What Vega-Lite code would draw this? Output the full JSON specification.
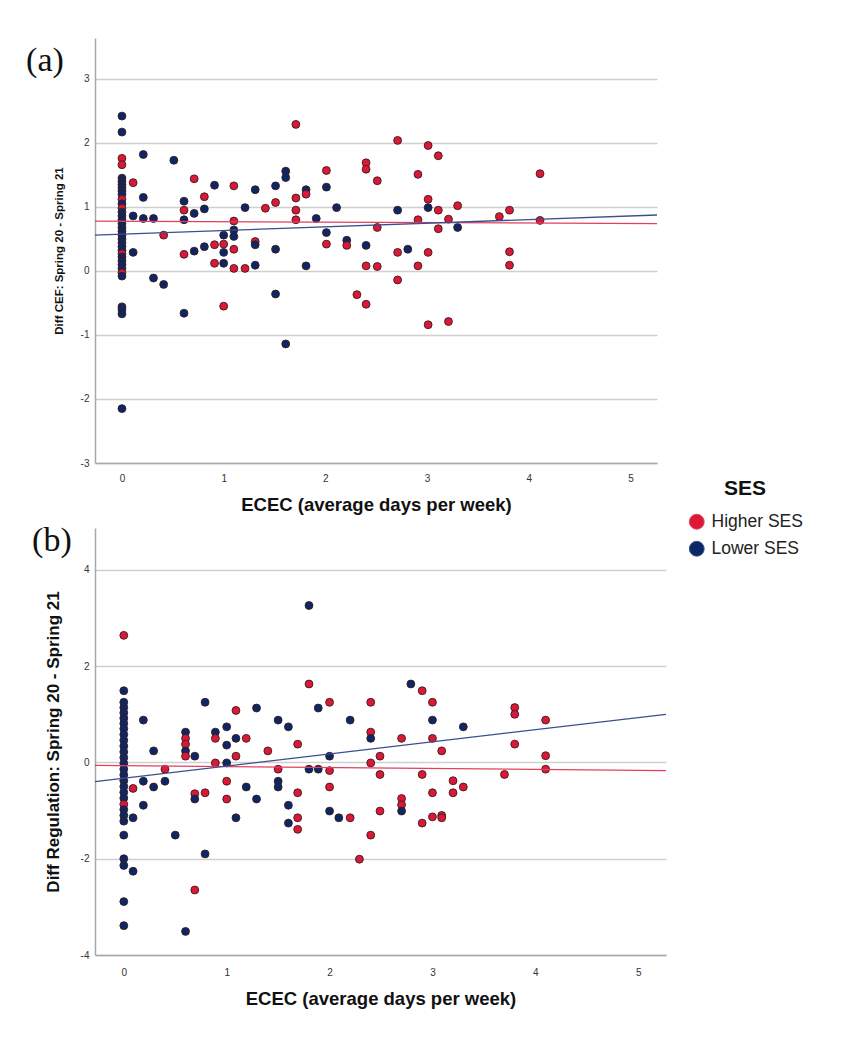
{
  "$schema": "https://vega.github.io/schema/vega-lite/v6.json",
  "background": "white",
  "padding": {"left": 26, "top": 38, "right": 5, "bottom": 5},
  "spacing": 10,
  "datasets": {
    "pointsA": [
      {"ECEC":0,"Diff":2.42,"SES":"Lower SES"},{"ECEC":0,"Diff":2.17,"SES":"Lower SES"},{"ECEC":0,"Diff":1.76,"SES":"Higher SES"},{"ECEC":0,"Diff":1.66,"SES":"Higher SES"},
      {"ECEC":0,"Diff":1.45,"SES":"Lower SES"},{"ECEC":0,"Diff":1.40,"SES":"Lower SES"},{"ECEC":0,"Diff":1.35,"SES":"Lower SES"},{"ECEC":0,"Diff":1.30,"SES":"Lower SES"},{"ECEC":0,"Diff":1.25,"SES":"Lower SES"},{"ECEC":0,"Diff":1.20,"SES":"Lower SES"},{"ECEC":0,"Diff":1.12,"SES":"Higher SES"},{"ECEC":0,"Diff":1.05,"SES":"Lower SES"},{"ECEC":0,"Diff":0.98,"SES":"Higher SES"},{"ECEC":0,"Diff":0.92,"SES":"Lower SES"},{"ECEC":0,"Diff":0.86,"SES":"Lower SES"},{"ECEC":0,"Diff":0.80,"SES":"Lower SES"},{"ECEC":0,"Diff":0.74,"SES":"Lower SES"},{"ECEC":0,"Diff":0.68,"SES":"Lower SES"},{"ECEC":0,"Diff":0.62,"SES":"Lower SES"},{"ECEC":0,"Diff":0.56,"SES":"Lower SES"},{"ECEC":0,"Diff":0.50,"SES":"Lower SES"},{"ECEC":0,"Diff":0.44,"SES":"Lower SES"},{"ECEC":0,"Diff":0.38,"SES":"Lower SES"},{"ECEC":0,"Diff":0.32,"SES":"Lower SES"},{"ECEC":0,"Diff":0.27,"SES":"Higher SES"},{"ECEC":0,"Diff":0.22,"SES":"Lower SES"},{"ECEC":0,"Diff":0.16,"SES":"Lower SES"},{"ECEC":0,"Diff":0.10,"SES":"Lower SES"},{"ECEC":0,"Diff":0.04,"SES":"Lower SES"},{"ECEC":0,"Diff":-0.03,"SES":"Higher SES"},{"ECEC":0,"Diff":-0.08,"SES":"Lower SES"},
      {"ECEC":0,"Diff":-0.56,"SES":"Lower SES"},{"ECEC":0,"Diff":-0.60,"SES":"Lower SES"},{"ECEC":0,"Diff":-0.67,"SES":"Lower SES"},{"ECEC":0,"Diff":-2.15,"SES":"Lower SES"},
      {"ECEC":0.11,"Diff":1.38,"SES":"Higher SES"},{"ECEC":0.11,"Diff":0.86,"SES":"Lower SES"},{"ECEC":0.11,"Diff":0.29,"SES":"Lower SES"},
      {"ECEC":0.21,"Diff":1.82,"SES":"Lower SES"},{"ECEC":0.21,"Diff":1.15,"SES":"Lower SES"},{"ECEC":0.21,"Diff":0.82,"SES":"Lower SES"},
      {"ECEC":0.31,"Diff":0.82,"SES":"Lower SES"},{"ECEC":0.31,"Diff":-0.11,"SES":"Lower SES"},
      {"ECEC":0.41,"Diff":0.56,"SES":"Higher SES"},{"ECEC":0.41,"Diff":-0.21,"SES":"Lower SES"},
      {"ECEC":0.51,"Diff":1.73,"SES":"Lower SES"},
      {"ECEC":0.61,"Diff":1.09,"SES":"Lower SES"},{"ECEC":0.61,"Diff":0.95,"SES":"Higher SES"},{"ECEC":0.61,"Diff":0.80,"SES":"Lower SES"},{"ECEC":0.61,"Diff":0.26,"SES":"Higher SES"},{"ECEC":0.61,"Diff":-0.66,"SES":"Lower SES"},
      {"ECEC":0.71,"Diff":1.44,"SES":"Higher SES"},{"ECEC":0.71,"Diff":0.90,"SES":"Lower SES"},{"ECEC":0.71,"Diff":0.31,"SES":"Lower SES"},
      {"ECEC":0.81,"Diff":1.16,"SES":"Higher SES"},{"ECEC":0.81,"Diff":0.97,"SES":"Lower SES"},{"ECEC":0.81,"Diff":0.38,"SES":"Lower SES"},
      {"ECEC":0.91,"Diff":1.34,"SES":"Lower SES"},{"ECEC":0.91,"Diff":0.41,"SES":"Higher SES"},{"ECEC":0.91,"Diff":0.12,"SES":"Higher SES"},
      {"ECEC":1.0,"Diff":0.56,"SES":"Lower SES"},{"ECEC":1.0,"Diff":0.42,"SES":"Higher SES"},{"ECEC":1.0,"Diff":0.29,"SES":"Lower SES"},{"ECEC":1.0,"Diff":0.12,"SES":"Lower SES"},{"ECEC":1.0,"Diff":-0.55,"SES":"Higher SES"},
      {"ECEC":1.10,"Diff":1.33,"SES":"Higher SES"},{"ECEC":1.10,"Diff":0.78,"SES":"Higher SES"},{"ECEC":1.10,"Diff":0.64,"SES":"Lower SES"},{"ECEC":1.10,"Diff":0.54,"SES":"Lower SES"},{"ECEC":1.10,"Diff":0.34,"SES":"Higher SES"},{"ECEC":1.10,"Diff":0.04,"SES":"Higher SES"},
      {"ECEC":1.21,"Diff":0.99,"SES":"Lower SES"},{"ECEC":1.21,"Diff":0.04,"SES":"Higher SES"},
      {"ECEC":1.31,"Diff":1.27,"SES":"Lower SES"},{"ECEC":1.31,"Diff":0.46,"SES":"Higher SES"},{"ECEC":1.31,"Diff":0.41,"SES":"Lower SES"},{"ECEC":1.31,"Diff":0.09,"SES":"Lower SES"},
      {"ECEC":1.41,"Diff":0.98,"SES":"Higher SES"},
      {"ECEC":1.51,"Diff":1.33,"SES":"Lower SES"},{"ECEC":1.51,"Diff":1.07,"SES":"Higher SES"},{"ECEC":1.51,"Diff":0.34,"SES":"Lower SES"},{"ECEC":1.51,"Diff":-0.36,"SES":"Lower SES"},
      {"ECEC":1.61,"Diff":1.56,"SES":"Lower SES"},{"ECEC":1.61,"Diff":1.46,"SES":"Lower SES"},{"ECEC":1.61,"Diff":-1.14,"SES":"Lower SES"},
      {"ECEC":1.71,"Diff":2.29,"SES":"Higher SES"},{"ECEC":1.71,"Diff":1.14,"SES":"Higher SES"},{"ECEC":1.71,"Diff":0.95,"SES":"Higher SES"},{"ECEC":1.71,"Diff":0.80,"SES":"Higher SES"},
      {"ECEC":1.81,"Diff":1.27,"SES":"Lower SES"},{"ECEC":1.81,"Diff":1.20,"SES":"Higher SES"},{"ECEC":1.81,"Diff":0.08,"SES":"Lower SES"},
      {"ECEC":1.91,"Diff":0.82,"SES":"Lower SES"},
      {"ECEC":2.01,"Diff":1.57,"SES":"Higher SES"},{"ECEC":2.01,"Diff":1.31,"SES":"Lower SES"},{"ECEC":2.01,"Diff":0.60,"SES":"Lower SES"},{"ECEC":2.01,"Diff":0.42,"SES":"Higher SES"},
      {"ECEC":2.11,"Diff":0.99,"SES":"Lower SES"},
      {"ECEC":2.21,"Diff":0.48,"SES":"Lower SES"},{"ECEC":2.21,"Diff":0.40,"SES":"Higher SES"},
      {"ECEC":2.31,"Diff":-0.37,"SES":"Higher SES"},
      {"ECEC":2.40,"Diff":1.69,"SES":"Higher SES"},{"ECEC":2.40,"Diff":1.59,"SES":"Higher SES"},{"ECEC":2.40,"Diff":0.40,"SES":"Lower SES"},{"ECEC":2.40,"Diff":0.08,"SES":"Higher SES"},{"ECEC":2.40,"Diff":-0.52,"SES":"Higher SES"},
      {"ECEC":2.51,"Diff":1.41,"SES":"Higher SES"},{"ECEC":2.51,"Diff":0.68,"SES":"Higher SES"},{"ECEC":2.51,"Diff":0.07,"SES":"Higher SES"},
      {"ECEC":2.71,"Diff":2.04,"SES":"Higher SES"},{"ECEC":2.71,"Diff":0.95,"SES":"Lower SES"},{"ECEC":2.71,"Diff":0.29,"SES":"Higher SES"},{"ECEC":2.71,"Diff":-0.14,"SES":"Higher SES"},
      {"ECEC":2.81,"Diff":0.34,"SES":"Lower SES"},
      {"ECEC":2.91,"Diff":1.51,"SES":"Higher SES"},{"ECEC":2.91,"Diff":0.80,"SES":"Higher SES"},{"ECEC":2.91,"Diff":0.08,"SES":"Higher SES"},
      {"ECEC":3.01,"Diff":1.96,"SES":"Higher SES"},{"ECEC":3.01,"Diff":1.12,"SES":"Higher SES"},{"ECEC":3.01,"Diff":0.99,"SES":"Lower SES"},{"ECEC":3.01,"Diff":0.29,"SES":"Higher SES"},{"ECEC":3.01,"Diff":-0.84,"SES":"Higher SES"},
      {"ECEC":3.11,"Diff":1.80,"SES":"Higher SES"},{"ECEC":3.11,"Diff":0.95,"SES":"Higher SES"},{"ECEC":3.11,"Diff":0.66,"SES":"Higher SES"},
      {"ECEC":3.21,"Diff":0.81,"SES":"Higher SES"},{"ECEC":3.21,"Diff":-0.79,"SES":"Higher SES"},
      {"ECEC":3.30,"Diff":1.02,"SES":"Higher SES"},{"ECEC":3.30,"Diff":0.68,"SES":"Lower SES"},
      {"ECEC":3.71,"Diff":0.85,"SES":"Higher SES"},
      {"ECEC":3.81,"Diff":0.95,"SES":"Higher SES"},{"ECEC":3.81,"Diff":0.30,"SES":"Higher SES"},{"ECEC":3.81,"Diff":0.09,"SES":"Higher SES"},
      {"ECEC":4.11,"Diff":1.52,"SES":"Higher SES"},{"ECEC":4.11,"Diff":0.79,"SES":"Higher SES"}
    ],
    "linesA": [
      {"ECEC":-0.265,"Diff":0.78,"SES":"Higher SES"},{"ECEC":5.26,"Diff":0.74,"SES":"Higher SES"},
      {"ECEC":-0.265,"Diff":0.56,"SES":"Lower SES"},{"ECEC":5.26,"Diff":0.875,"SES":"Lower SES"}
    ],
    "pointsB": [
      {"ECEC":0,"Diff":2.64,"SES":"Higher SES"},{"ECEC":0,"Diff":1.49,"SES":"Lower SES"},
      {"ECEC":0,"Diff":1.25,"SES":"Lower SES"},{"ECEC":0,"Diff":1.14,"SES":"Lower SES"},{"ECEC":0,"Diff":1.03,"SES":"Lower SES"},{"ECEC":0,"Diff":0.92,"SES":"Lower SES"},{"ECEC":0,"Diff":0.81,"SES":"Lower SES"},{"ECEC":0,"Diff":0.70,"SES":"Lower SES"},{"ECEC":0,"Diff":0.58,"SES":"Lower SES"},{"ECEC":0,"Diff":0.46,"SES":"Lower SES"},{"ECEC":0,"Diff":0.34,"SES":"Lower SES"},{"ECEC":0,"Diff":0.22,"SES":"Lower SES"},{"ECEC":0,"Diff":0.10,"SES":"Lower SES"},{"ECEC":0,"Diff":-0.02,"SES":"Lower SES"},{"ECEC":0,"Diff":-0.14,"SES":"Lower SES"},{"ECEC":0,"Diff":-0.26,"SES":"Lower SES"},{"ECEC":0,"Diff":-0.38,"SES":"Lower SES"},{"ECEC":0,"Diff":-0.50,"SES":"Lower SES"},{"ECEC":0,"Diff":-0.62,"SES":"Lower SES"},{"ECEC":0,"Diff":-0.74,"SES":"Lower SES"},{"ECEC":0,"Diff":-0.87,"SES":"Higher SES"},{"ECEC":0,"Diff":-0.98,"SES":"Lower SES"},{"ECEC":0,"Diff":-1.10,"SES":"Lower SES"},{"ECEC":0,"Diff":-1.22,"SES":"Lower SES"},
      {"ECEC":0,"Diff":-1.51,"SES":"Lower SES"},{"ECEC":0,"Diff":-2.0,"SES":"Lower SES"},{"ECEC":0,"Diff":-2.14,"SES":"Lower SES"},{"ECEC":0,"Diff":-2.89,"SES":"Lower SES"},{"ECEC":0,"Diff":-3.39,"SES":"Lower SES"},
      {"ECEC":0.09,"Diff":-0.54,"SES":"Higher SES"},{"ECEC":0.09,"Diff":-1.15,"SES":"Lower SES"},{"ECEC":0.09,"Diff":-2.26,"SES":"Lower SES"},
      {"ECEC":0.19,"Diff":0.88,"SES":"Lower SES"},{"ECEC":0.19,"Diff":-0.39,"SES":"Lower SES"},{"ECEC":0.19,"Diff":-0.89,"SES":"Lower SES"},
      {"ECEC":0.29,"Diff":0.24,"SES":"Lower SES"},{"ECEC":0.29,"Diff":-0.51,"SES":"Lower SES"},
      {"ECEC":0.40,"Diff":-0.14,"SES":"Higher SES"},{"ECEC":0.40,"Diff":-0.39,"SES":"Lower SES"},
      {"ECEC":0.50,"Diff":-1.51,"SES":"Lower SES"},
      {"ECEC":0.60,"Diff":0.63,"SES":"Lower SES"},{"ECEC":0.60,"Diff":0.50,"SES":"Higher SES"},{"ECEC":0.60,"Diff":0.38,"SES":"Higher SES"},{"ECEC":0.60,"Diff":0.24,"SES":"Lower SES"},{"ECEC":0.60,"Diff":0.13,"SES":"Higher SES"},{"ECEC":0.60,"Diff":-3.51,"SES":"Lower SES"},
      {"ECEC":0.69,"Diff":0.13,"SES":"Lower SES"},{"ECEC":0.69,"Diff":-0.65,"SES":"Higher SES"},{"ECEC":0.69,"Diff":-0.76,"SES":"Lower SES"},{"ECEC":0.69,"Diff":-2.65,"SES":"Higher SES"},
      {"ECEC":0.79,"Diff":1.25,"SES":"Lower SES"},{"ECEC":0.79,"Diff":-0.63,"SES":"Higher SES"},{"ECEC":0.79,"Diff":-1.90,"SES":"Lower SES"},
      {"ECEC":0.89,"Diff":0.63,"SES":"Lower SES"},{"ECEC":0.89,"Diff":0.50,"SES":"Higher SES"},{"ECEC":0.89,"Diff":-0.01,"SES":"Higher SES"},
      {"ECEC":1.0,"Diff":0.74,"SES":"Lower SES"},{"ECEC":1.0,"Diff":0.36,"SES":"Lower SES"},{"ECEC":1.0,"Diff":-0.01,"SES":"Lower SES"},{"ECEC":1.0,"Diff":-0.39,"SES":"Higher SES"},{"ECEC":1.0,"Diff":-0.76,"SES":"Higher SES"},
      {"ECEC":1.09,"Diff":1.08,"SES":"Higher SES"},{"ECEC":1.09,"Diff":0.50,"SES":"Lower SES"},{"ECEC":1.09,"Diff":0.13,"SES":"Higher SES"},{"ECEC":1.09,"Diff":-1.15,"SES":"Lower SES"},
      {"ECEC":1.19,"Diff":0.50,"SES":"Higher SES"},{"ECEC":1.19,"Diff":-0.51,"SES":"Lower SES"},
      {"ECEC":1.29,"Diff":1.13,"SES":"Lower SES"},{"ECEC":1.29,"Diff":-0.76,"SES":"Lower SES"},
      {"ECEC":1.40,"Diff":0.24,"SES":"Higher SES"},
      {"ECEC":1.50,"Diff":0.88,"SES":"Lower SES"},{"ECEC":1.50,"Diff":-0.14,"SES":"Higher SES"},{"ECEC":1.50,"Diff":-0.39,"SES":"Lower SES"},{"ECEC":1.50,"Diff":-0.51,"SES":"Lower SES"},
      {"ECEC":1.60,"Diff":0.74,"SES":"Lower SES"},{"ECEC":1.60,"Diff":-0.89,"SES":"Lower SES"},{"ECEC":1.60,"Diff":-1.26,"SES":"Lower SES"},
      {"ECEC":1.69,"Diff":0.38,"SES":"Higher SES"},{"ECEC":1.69,"Diff":-0.63,"SES":"Higher SES"},{"ECEC":1.69,"Diff":-1.15,"SES":"Higher SES"},{"ECEC":1.69,"Diff":-1.39,"SES":"Higher SES"},
      {"ECEC":1.80,"Diff":3.26,"SES":"Lower SES"},{"ECEC":1.80,"Diff":1.63,"SES":"Higher SES"},{"ECEC":1.80,"Diff":-0.14,"SES":"Lower SES"},
      {"ECEC":1.89,"Diff":1.13,"SES":"Lower SES"},{"ECEC":1.89,"Diff":-0.14,"SES":"Lower SES"},
      {"ECEC":2.0,"Diff":1.25,"SES":"Higher SES"},{"ECEC":2.0,"Diff":0.13,"SES":"Lower SES"},{"ECEC":2.0,"Diff":-0.17,"SES":"Higher SES"},{"ECEC":2.0,"Diff":-0.51,"SES":"Higher SES"},{"ECEC":2.0,"Diff":-1.01,"SES":"Lower SES"},
      {"ECEC":2.09,"Diff":-1.15,"SES":"Lower SES"},
      {"ECEC":2.20,"Diff":0.88,"SES":"Lower SES"},{"ECEC":2.20,"Diff":-1.15,"SES":"Higher SES"},
      {"ECEC":2.29,"Diff":-2.01,"SES":"Higher SES"},
      {"ECEC":2.40,"Diff":1.25,"SES":"Higher SES"},{"ECEC":2.40,"Diff":0.63,"SES":"Higher SES"},{"ECEC":2.40,"Diff":0.50,"SES":"Lower SES"},{"ECEC":2.40,"Diff":-0.01,"SES":"Higher SES"},{"ECEC":2.40,"Diff":-1.51,"SES":"Higher SES"},
      {"ECEC":2.49,"Diff":0.13,"SES":"Higher SES"},{"ECEC":2.49,"Diff":-0.25,"SES":"Higher SES"},{"ECEC":2.49,"Diff":-1.01,"SES":"Higher SES"},
      {"ECEC":2.70,"Diff":0.50,"SES":"Higher SES"},{"ECEC":2.70,"Diff":-0.75,"SES":"Higher SES"},{"ECEC":2.70,"Diff":-0.88,"SES":"Higher SES"},{"ECEC":2.70,"Diff":-1.01,"SES":"Lower SES"},
      {"ECEC":2.79,"Diff":1.63,"SES":"Lower SES"},
      {"ECEC":2.90,"Diff":1.49,"SES":"Higher SES"},{"ECEC":2.90,"Diff":-0.25,"SES":"Higher SES"},{"ECEC":2.90,"Diff":-1.26,"SES":"Higher SES"},
      {"ECEC":3.0,"Diff":1.25,"SES":"Higher SES"},{"ECEC":3.0,"Diff":0.88,"SES":"Lower SES"},{"ECEC":3.0,"Diff":0.50,"SES":"Higher SES"},{"ECEC":3.0,"Diff":-0.63,"SES":"Higher SES"},{"ECEC":3.0,"Diff":-1.13,"SES":"Higher SES"},
      {"ECEC":3.09,"Diff":0.24,"SES":"Higher SES"},{"ECEC":3.09,"Diff":-1.10,"SES":"Higher SES"},{"ECEC":3.09,"Diff":-1.15,"SES":"Higher SES"},
      {"ECEC":3.20,"Diff":-0.38,"SES":"Higher SES"},{"ECEC":3.20,"Diff":-0.63,"SES":"Higher SES"},
      {"ECEC":3.30,"Diff":0.74,"SES":"Lower SES"},{"ECEC":3.30,"Diff":-0.51,"SES":"Higher SES"},
      {"ECEC":3.70,"Diff":-0.25,"SES":"Higher SES"},
      {"ECEC":3.80,"Diff":1.14,"SES":"Higher SES"},{"ECEC":3.80,"Diff":1.00,"SES":"Higher SES"},{"ECEC":3.80,"Diff":0.38,"SES":"Higher SES"},
      {"ECEC":4.10,"Diff":0.88,"SES":"Higher SES"},{"ECEC":4.10,"Diff":0.14,"SES":"Higher SES"},{"ECEC":4.10,"Diff":-0.14,"SES":"Higher SES"}
    ],
    "linesB": [
      {"ECEC":-0.28,"Diff":-0.06,"SES":"Higher SES"},{"ECEC":5.27,"Diff":-0.17,"SES":"Higher SES"},
      {"ECEC":-0.28,"Diff":-0.40,"SES":"Lower SES"},{"ECEC":5.27,"Diff":1.0,"SES":"Lower SES"}
    ]
  },
  "config": {
    "view": {"stroke": null},
    "font": "Liberation Sans",
    "axis": {
      "ticks": false,
      "domainColor": "#a8a8a8",
      "domainWidth": 1.5,
      "gridColor": "#d0d0d0",
      "gridWidth": 1.5,
      "labelFont": "Liberation Sans",
      "labelFontSize": 10,
      "labelColor": "#333333",
      "labelExpr": "'' + datum.value",
      "titleFont": "Liberation Sans",
      "titleFontWeight": "bold",
      "titleColor": "#111111"
    }
  },
  "resolve": {"scale": {"color": "shared"}},
  "vconcat": [
    {
      "width": 562,
      "height": 425,
      "title": {"text": "(a)", "anchor": "start", "font": "Liberation Serif", "fontSize": 34, "fontWeight": "normal", "color": "#111111", "offset": -40, "dx": -27},
      "layer": [
        {
          "data": {"name": "pointsA"},
          "mark": {"type": "circle", "size": 62, "opacity": 1, "stroke": "#3a1c1c", "strokeWidth": 0.9},
          "encoding": {
            "x": {"field": "ECEC", "type": "quantitative", "scale": {"domain": [-0.265, 5.26], "nice": false, "zero": false},
                  "axis": {"title": "ECEC (average days per week)", "values": [0,1,2,3,4,5], "grid": false, "titleFontSize": 18.5, "labelPadding": 10, "titlePadding": 12}},
            "y": {"field": "Diff", "type": "quantitative", "scale": {"domain": [-3, 3.64], "nice": false, "zero": false},
                  "axis": {"title": "Diff CEF: Spring 20 - Spring 21", "values": [-3,-2,-1,0,1,2,3], "grid": true, "titleFontSize": 11.5, "labelPadding": 6, "titlePadding": 16}},
            "color": {"field": "SES", "type": "nominal",
                      "scale": {"domain": ["Higher SES", "Lower SES"], "range": ["#dc1838", "#0c2768"]},
                      "legend": {"title": "SES", "orient": "none", "legendX": 593, "legendY": 440, "titleFontSize": 21, "titleFont": "Liberation Sans", "titleFontWeight": "bold", "titleColor": "#111111", "titleAnchor": "middle", "titlePadding": 14, "labelFont": "Liberation Sans", "labelFontSize": 17.5, "labelColor": "#222222", "labelOffset": 6, "symbolType": "circle", "symbolSize": 220, "symbolStrokeColor": "#2a1515", "symbolStrokeWidth": 1, "symbolOpacity": 1, "rowPadding": 7}}
          }
        },
        {
          "data": {"name": "linesA"},
          "mark": {"type": "line", "strokeWidth": 1.3},
          "encoding": {
            "x": {"field": "ECEC", "type": "quantitative"},
            "y": {"field": "Diff", "type": "quantitative"},
            "stroke": {"field": "SES", "type": "nominal", "scale": {"domain": ["Higher SES", "Lower SES"], "range": ["#e2405e", "#3b4f8c"]}, "legend": null}
          }
        }
      ]
    },
    {
      "width": 571,
      "height": 427,
      "title": {"text": "(b)", "anchor": "start", "font": "Liberation Serif", "fontSize": 34, "fontWeight": "normal", "color": "#111111", "offset": -30, "dx": -12},
      "layer": [
        {
          "data": {"name": "pointsB"},
          "mark": {"type": "circle", "size": 62, "opacity": 1, "stroke": "#3a1c1c", "strokeWidth": 0.9},
          "encoding": {
            "x": {"field": "ECEC", "type": "quantitative", "scale": {"domain": [-0.28, 5.27], "nice": false, "zero": false},
                  "axis": {"title": "ECEC (average days per week)", "values": [0,1,2,3,4,5], "grid": false, "titleFontSize": 18.5, "labelPadding": 12, "titlePadding": 12}},
            "y": {"field": "Diff", "type": "quantitative", "scale": {"domain": [-4, 4.87], "nice": false, "zero": false},
                  "axis": {"title": "Diff Regulation: Spring 20 - Spring 21", "values": [-4,-2,0,2,4], "grid": true, "titleFontSize": 17, "labelPadding": 6, "titlePadding": 18}},
            "color": {"field": "SES", "type": "nominal",
                      "scale": {"domain": ["Higher SES", "Lower SES"], "range": ["#dc1838", "#0c2768"]},
                      "legend": {"title": "SES", "orient": "none", "legendX": 593, "legendY": 440, "titleFontSize": 21, "titleFont": "Liberation Sans", "titleFontWeight": "bold", "titleColor": "#111111", "titleAnchor": "middle", "titlePadding": 14, "labelFont": "Liberation Sans", "labelFontSize": 17.5, "labelColor": "#222222", "labelOffset": 6, "symbolType": "circle", "symbolSize": 220, "symbolStrokeColor": "#2a1515", "symbolStrokeWidth": 1, "symbolOpacity": 1, "rowPadding": 7}}
          }
        },
        {
          "data": {"name": "linesB"},
          "mark": {"type": "line", "strokeWidth": 1.3},
          "encoding": {
            "x": {"field": "ECEC", "type": "quantitative"},
            "y": {"field": "Diff", "type": "quantitative"},
            "stroke": {"field": "SES", "type": "nominal", "scale": {"domain": ["Higher SES", "Lower SES"], "range": ["#e2405e", "#3b4f8c"]}, "legend": null}
          }
        }
      ]
    }
  ]
}
